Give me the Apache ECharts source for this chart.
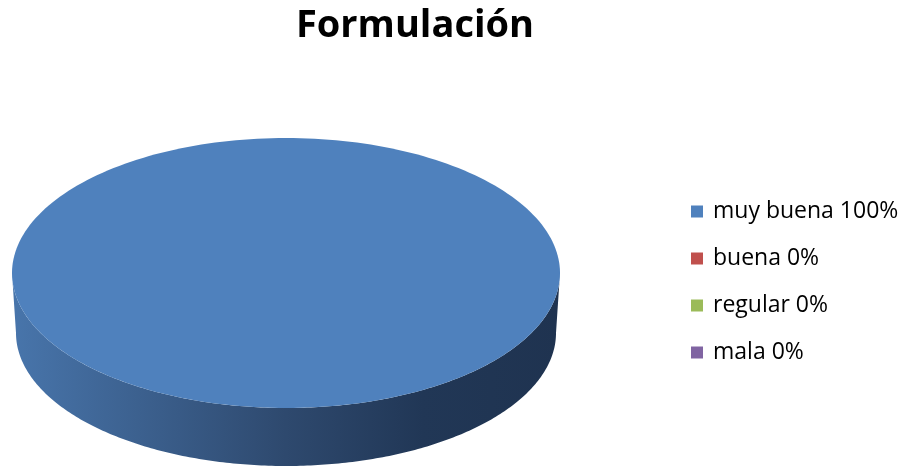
<!DOCTYPE html>
<html>
<head>
<meta charset="utf-8">
<script src="https://cdn.jsdelivr.net/npm/echarts@6/dist/echarts.min.js"></script>
<style>
  html, body { margin: 0; padding: 0; background: #fff; }
  #chart { width: 904px; height: 468px; }
</style>
</head>
<body>
<div id="chart"></div>
<script>
// Survey answers for "Formulación"
const categories = ['muy buena', 'buena', 'regular', 'mala'];
const percents = [100, 0, 0, 0];
const topColors = ['#4F81BD', '#C0504D', '#9BBB59', '#8064A2'];
const sideColors = [
  ['#4875AB', '#2E496E', '#213756', '#1F3350'],
  ['#A9423F', '#7A2E2C', '#5E2321', '#541F1E'],
  ['#87A44C', '#5F7536', '#4A5B2A', '#435226'],
  ['#6F5790', '#4E3D66', '#3C2F4E', '#362A46']
];

// Ellipse geometry of the tilted disc
const geo = { cx: 286, cy: 273, rx: 274, ry: 135, rxB: 270, ryB: 133, depth: 60 };
const total = percents.reduce((a, b) => a + b, 0);

function pt(t, rx, ry, dy) {
  return [geo.cx + rx * Math.sin(t), geo.cy + dy - ry * Math.cos(t)];
}

function makeRender(idx) {
  return function (params, api) {
    const v = api.value(0);
    if (!(v > 0)) return null;
    let before = 0;
    for (let i = 0; i < idx; i++) before += percents[i];
    const a0 = before / total * Math.PI * 2;
    const a1 = (before + v) / total * Math.PI * 2;
    const full = (a1 - a0) >= Math.PI * 2 - 1e-9;
    const N = 240;
    const children = [];

    // front side wall: visible where the rim faces the viewer (between 90° and 270°)
    const s0 = Math.max(a0, Math.PI / 2), s1 = Math.min(a1, Math.PI * 1.5);
    if (s1 > s0) {
      const topArc = [], botArc = [];
      for (let k = 0; k <= N; k++) {
        const t = s0 + (s1 - s0) * k / N;
        topArc.push(pt(t, geo.rx, geo.ry, 0));
        botArc.push(pt(t, geo.rxB, geo.ryB, geo.depth));
      }
      const sc = sideColors[idx];
      children.push({
        type: 'polygon',
        shape: { points: topArc.concat(botArc.reverse()) },
        style: {
          fill: new echarts.graphic.LinearGradient(geo.cx - geo.rx, 0, geo.cx + geo.rx, 0, [
            { offset: 0, color: sc[0] },
            { offset: 0.5, color: sc[1] },
            { offset: 0.75, color: sc[2] },
            { offset: 1, color: sc[3] }
          ], true)
        }
      });
    }

    // top face
    const top = [];
    if (!full) top.push([geo.cx, geo.cy]);
    for (let k = 0; k <= N; k++) {
      const t = a0 + (a1 - a0) * k / N;
      top.push(pt(t, geo.rx, geo.ry, 0));
    }
    children.push({
      type: 'polygon',
      shape: { points: top },
      style: { fill: topColors[idx] }
    });
    return { type: 'group', children: children };
  };
}

const chart = echarts.init(document.getElementById('chart'), null, { renderer: 'canvas' });
chart.setOption({
  animation: false,
  backgroundColor: '#ffffff',
  title: {
    text: 'Formulación',
    left: 410,
    textAlign: 'center',
    top: 2,
    textStyle: { fontFamily: 'Open Sans', fontWeight: 'bold', fontSize: 38, color: '#000' }
  },
  legend: {
    orient: 'vertical',
    left: 686,
    top: 194,
    itemWidth: 12,
    itemHeight: 12,
    itemGap: 22,
    icon: 'rect',
    data: categories,
    formatter: function (name) {
      return name + ' ' + percents[categories.indexOf(name)] + '%';
    },
    textStyle: { fontFamily: 'Open Sans', fontSize: 23, color: '#000', lineHeight: 25, padding: [0, 0, 0, 5] },
    selectedMode: false
  },
  series: categories.map(function (name, i) {
    return {
      type: 'custom',
      name: name,
      coordinateSystem: 'none',
      itemStyle: { color: topColors[i] },
      renderItem: makeRender(i),
      data: [[percents[i]]]
    };
  })
});
</script>
</body>
</html>
